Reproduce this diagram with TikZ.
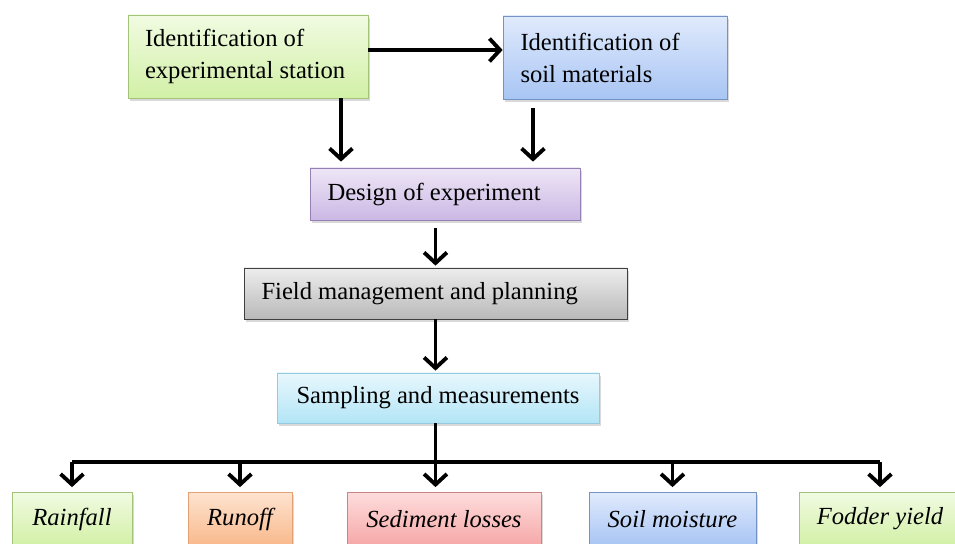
\documentclass[tikz,border=0pt]{standalone}
\usepackage{fontspec}
\setmainfont{Liberation Serif}
\usetikzlibrary{arrows.meta,shadows}
\hyphenpenalty=10000
\definecolor{greentop}{HTML}{F1FBE2}
\definecolor{greenbot}{HTML}{D2F0A6}
\definecolor{greenrim}{HTML}{A3C27A}
\definecolor{bluetop}{HTML}{E0EAFC}
\definecolor{bluebot}{HTML}{A8C5F4}
\definecolor{bluerim}{HTML}{7592C4}
\definecolor{purpletop}{HTML}{EEE6F6}
\definecolor{purplebot}{HTML}{CBB8E5}
\definecolor{purplerim}{HTML}{9580B5}
\definecolor{greytop}{HTML}{EDEDED}
\definecolor{greybot}{HTML}{B9B9B9}
\definecolor{cyantop}{HTML}{E8F7FD}
\definecolor{cyanbot}{HTML}{B3E5F6}
\definecolor{cyanrim}{HTML}{95CBE0}
\definecolor{orangetop}{HTML}{FEE3D0}
\definecolor{orangebot}{HTML}{F8B98B}
\definecolor{orangerim}{HTML}{E2A275}
\definecolor{redtop}{HTML}{FEDCDC}
\definecolor{redbot}{HTML}{F6A8A8}
\definecolor{redrim}{HTML}{C98585}
\tikzset{stage/.style={
    rectangle, draw, thin, inner xsep=.35cm, inner ysep=0pt,
    align=flush left, font=\fontsize{14}{18.2}\selectfont,
    drop shadow={opacity=.3, shadow xshift=.04cm, shadow yshift=-.06cm}
  },
  result/.style={stage, align=center, font=\fontsize{14}{18.2}\selectfont\itshape,
    minimum height=1.06cm},
  green stage/.style={top color=greentop, bottom color=greenbot, draw=greenrim},
  blue stage/.style={top color=bluetop, bottom color=bluebot, draw=bluerim},
  purple stage/.style={top color=purpletop, bottom color=purplebot, draw=purplerim},
  grey stage/.style={top color=greytop, bottom color=greybot, draw=black!75},
  cyan stage/.style={top color=cyantop, bottom color=cyanbot, draw=cyanrim},
  orange stage/.style={top color=orangetop, bottom color=orangebot, draw=orangerim},
  red stage/.style={top color=redtop, bottom color=redbot, draw=redrim},
  flow/.style={-{Straight Barb[length=6pt,width=13pt]}, line width=2.2pt},
  bus/.style={line width=2.2pt, rounded corners=2pt}
}
\begin{document}
\begin{tikzpicture}
    \useasboundingbox (0,0) rectangle (19.1,10.88);

    \node[stage, green stage, minimum width=4.8cm, minimum height=1.66cm, text width=4.12cm, inner xsep=.34cm]
      (station) at (4.96,9.75) {Identification of\\experimental station};
    \node[stage, blue stage, minimum width=4.48cm, minimum height=1.66cm, text width=3.78cm]
      (soil) at (12.30,9.73) {Identification of\\soil materials};
    \node[stage, purple stage, minimum width=5.4cm, minimum height=1.04cm, text width=4.7cm]
      (design) at (8.90,7.00) {Design of experiment};
    \node[stage, grey stage, minimum width=7.66cm, minimum height=1.02cm, text width=6.96cm]
      (field) at (8.71,5.01) {Field management and planning};
    \node[stage, cyan stage, align=center, minimum width=6.44cm, minimum height=1.0cm]
      (sampling) at (8.76,2.92) {Sampling and measurements};

    \node[result, green stage, minimum width=2.4cm] (rain) at (1.44,.5) {Rainfall};
    \node[result, orange stage, minimum width=2.08cm] (runoff) at (4.80,.5) {Runoff};
    \node[result, red stage, minimum width=3.88cm] (sediment) at (8.88,.5) {Sediment losses};
    \node[result, blue stage, minimum width=3.34cm] (moisture) at (13.45,.5) {Soil moisture};
    \node[result, green stage, minimum width=3.2cm] (fodder) at (17.6,.5) {Fodder yield};

    \draw[flow] ([yshift=.13cm]station.east) -- ([yshift=.13cm]station.east -| soil.west);
    \draw[flow, shorten >=.12cm] ([xshift=1.86cm]station.south) -- ([xshift=1.86cm]station.south |- design.north);
    \draw[flow, shorten <=.18cm, shorten >=.12cm] ([xshift=-1.64cm]soil.south) -- ([xshift=-1.64cm]soil.south |- design.north);
    \draw[flow, shorten <=.16cm, shorten >=.04cm] (design.south -| field.north) -- (field.north);
    \draw[flow, shorten >=.04cm] (field.south) -- (field.south |- sampling.north);

    \coordinate (hub) at ([yshift=-.78cm]field.south |- sampling.south);
    \draw[bus] (sampling.south -| hub) -- (hub);
    \draw[bus] (rain.north |- hub) -- (fodder.north |- hub);
    \draw[flow, shorten >=.1cm] (hub -| rain.north) -- (rain.north);
    \draw[flow, shorten >=.1cm] (hub -| runoff.north) -- (runoff.north);
    \draw[flow, shorten >=.1cm] (hub) -- (hub |- sediment.north);
    \draw[flow, shorten >=.1cm] (hub -| moisture.north) -- (moisture.north);
    \draw[flow, shorten >=.1cm] (hub -| fodder.north) -- (fodder.north);
\end{tikzpicture}
\end{document}
